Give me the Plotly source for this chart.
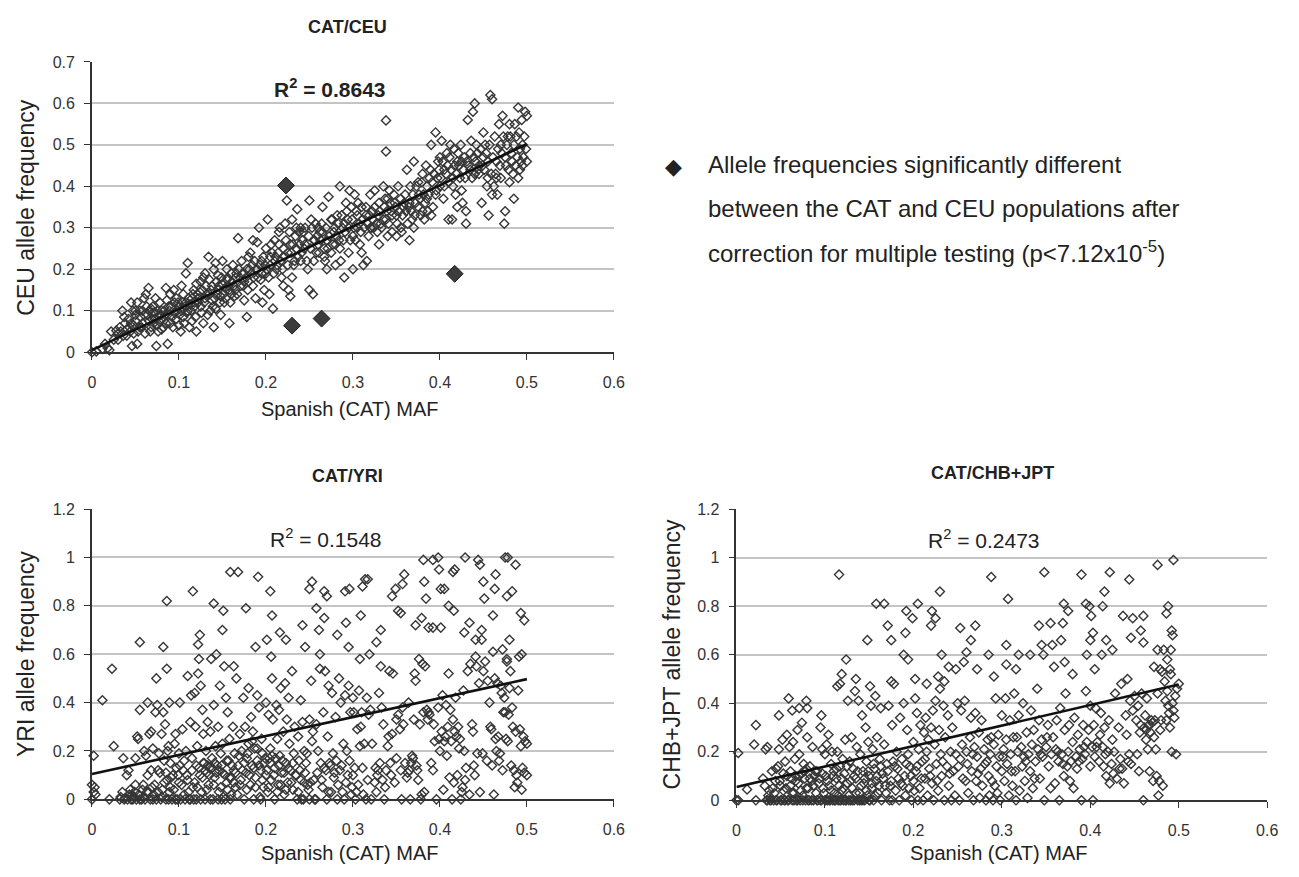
import plotly.graph_objects as go

# ---------------- DATA ----------------
x_ticks = [0, 0.1, 0.2, 0.3, 0.4, 0.5, 0.6]
x_ticklabels = ["0", "0.1", "0.2", "0.3", "0.4", "0.5", "0.6"]
ceu_yticks = [0, 0.1, 0.2, 0.3, 0.4, 0.5, 0.6, 0.7]
ceu_yticklabels = ["0", "0.1", "0.2", "0.3", "0.4", "0.5", "0.6", "0.7"]
low_yticks = [0, 0.2, 0.4, 0.6, 0.8, 1.0, 1.2]
low_yticklabels = ["0", "0.2", "0.4", "0.6", "0.8", "1", "1.2"]

panel_titles = ["CAT/CEU", "CAT/YRI", "CAT/CHB+JPT"]
r2_labels = ["0.8643", "0.1548", "0.2473"]

# CAT vs CEU (significant outliers separately)
ceu_sig_x = [0.223, 0.230, 0.264, 0.417]
ceu_sig_y = [0.402, 0.064, 0.081, 0.189]

ceu_points = [
    (0.0,0.0),(0.005,0.002),(0.012,0.008),(0.018,0.01),(0.02,0.005),(0.015,0.02),
    (0.022,0.05),(0.025,0.03),(0.03,0.045),(0.032,0.06),(0.035,0.1),(0.038,0.07),(0.04,0.055),(0.036,0.04),(0.028,0.052),
    (0.042,0.08),(0.045,0.12),(0.048,0.065),(0.05,0.09),(0.052,0.12),(0.055,0.06),(0.046,0.015),(0.052,0.02),(0.058,0.1),(0.044,0.05),(0.05,0.075),(0.056,0.085),(0.06,0.13),(0.058,0.07),(0.047,0.1),
    (0.062,0.14),(0.065,0.155),(0.064,0.09),(0.068,0.06),(0.07,0.11),(0.072,0.08),(0.074,0.015),(0.076,0.05),(0.078,0.12),(0.066,0.075),(0.07,0.095),(0.075,0.065),(0.08,0.1),(0.08,0.055),(0.073,0.13),(0.068,0.105),
    (0.082,0.06),(0.085,0.155),(0.087,0.02),(0.088,0.11),(0.09,0.14),(0.092,0.085),(0.095,0.12),(0.098,0.1),(0.1,0.065),(0.084,0.09),(0.09,0.07),(0.094,0.15),(0.097,0.13),(0.1,0.11),(0.086,0.125),
    (0.102,0.05),(0.105,0.085),(0.108,0.19),(0.11,0.215),(0.112,0.06),(0.115,0.13),(0.118,0.11),(0.12,0.165),(0.105,0.14),(0.11,0.1),(0.115,0.075),(0.12,0.05),(0.108,0.12),(0.117,0.15),(0.103,0.16),
    (0.122,0.12),(0.125,0.17),(0.128,0.07),(0.13,0.19),(0.132,0.14),(0.134,0.23),(0.136,0.1),(0.138,0.16),(0.14,0.06),(0.126,0.095),(0.13,0.13),(0.135,0.175),(0.14,0.2),(0.124,0.145),(0.138,0.125),(0.128,0.18),
    (0.142,0.215),(0.145,0.15),(0.148,0.09),(0.15,0.22),(0.152,0.12),(0.155,0.175),(0.158,0.07),(0.16,0.14),(0.145,0.185),(0.15,0.165),(0.155,0.2),(0.142,0.105),(0.148,0.135),(0.157,0.16),(0.16,0.19),
    (0.162,0.21),(0.165,0.15),(0.168,0.275),(0.17,0.18),(0.172,0.22),(0.175,0.125),(0.178,0.085),(0.18,0.23),(0.166,0.19),(0.174,0.16),(0.178,0.2),(0.164,0.135),(0.18,0.17),
    (0.182,0.24),(0.185,0.27),(0.188,0.13),(0.19,0.2),(0.192,0.3),(0.195,0.22),(0.198,0.15),(0.2,0.25),(0.186,0.18),(0.19,0.265),(0.196,0.12),(0.2,0.19),(0.184,0.21),(0.194,0.175),
    (0.202,0.32),(0.205,0.23),(0.208,0.105),(0.21,0.27),(0.212,0.2),(0.215,0.29),(0.218,0.18),(0.22,0.25),(0.204,0.14),(0.21,0.22),(0.216,0.3),(0.22,0.16),(0.206,0.26),(0.214,0.24),
    (0.222,0.31),(0.224,0.366),(0.226,0.15),(0.228,0.26),(0.23,0.32),(0.232,0.21),(0.234,0.28),(0.236,0.345),(0.238,0.29),(0.24,0.22),(0.225,0.24),(0.23,0.18),(0.24,0.3),(0.228,0.135),(0.235,0.25),
    (0.242,0.27),(0.245,0.3),(0.248,0.2),(0.25,0.366),(0.252,0.32),(0.254,0.14),(0.256,0.27),(0.258,0.24),(0.26,0.3),(0.244,0.25),(0.25,0.15),(0.255,0.22),(0.26,0.26),
    (0.262,0.29),(0.265,0.35),(0.268,0.22),(0.27,0.27),(0.272,0.375),(0.275,0.24),(0.278,0.29),(0.28,0.21),(0.264,0.31),(0.27,0.2),(0.276,0.32),(0.28,0.26),(0.267,0.25),
    (0.282,0.33),(0.285,0.4),(0.288,0.3),(0.29,0.18),(0.292,0.36),(0.295,0.24),(0.298,0.35),(0.3,0.2),(0.284,0.27),(0.29,0.31),(0.296,0.39),(0.3,0.28),(0.286,0.22),(0.294,0.32),
    (0.302,0.38),(0.305,0.3),(0.308,0.26),(0.31,0.35),(0.312,0.21),(0.315,0.33),(0.318,0.28),(0.32,0.38),(0.304,0.34),(0.31,0.24),(0.316,0.22),(0.32,0.3),(0.306,0.36),
    (0.322,0.34),(0.325,0.39),(0.328,0.29),(0.33,0.36),(0.332,0.31),(0.335,0.4),(0.338,0.32),(0.34,0.28),(0.324,0.3),(0.33,0.26),(0.336,0.35),(0.34,0.37),(0.338,0.559),(0.338,0.484),
    (0.342,0.39),(0.345,0.29),(0.348,0.36),(0.35,0.33),(0.352,0.4),(0.355,0.3),(0.358,0.35),(0.36,0.38),(0.344,0.34),(0.35,0.28),(0.356,0.29),
    (0.362,0.44),(0.365,0.27),(0.368,0.32),(0.37,0.46),(0.372,0.36),(0.375,0.41),(0.378,0.33),(0.38,0.43),(0.364,0.35),(0.37,0.3),(0.376,0.38),(0.38,0.34),(0.366,0.4),
    (0.382,0.32),(0.385,0.37),(0.388,0.42),(0.39,0.5),(0.392,0.35),(0.395,0.53),(0.398,0.46),(0.4,0.4),(0.384,0.45),(0.39,0.33),(0.396,0.39),(0.4,0.47),(0.386,0.34),
    (0.402,0.51),(0.405,0.44),(0.408,0.48),(0.41,0.32),(0.412,0.5),(0.415,0.42),(0.418,0.38),(0.42,0.46),(0.404,0.37),(0.41,0.41),(0.416,0.49),(0.42,0.35),(0.414,0.32),
    (0.422,0.45),(0.425,0.39),(0.428,0.47),(0.43,0.31),(0.432,0.56),(0.435,0.44),(0.438,0.58),(0.44,0.6),(0.424,0.5),(0.43,0.34),(0.436,0.51),(0.44,0.43),(0.426,0.36),
    (0.442,0.5),(0.445,0.45),(0.448,0.36),(0.45,0.53),(0.452,0.5),(0.455,0.42),(0.458,0.62),(0.46,0.38),(0.444,0.44),(0.45,0.47),(0.456,0.33),(0.46,0.61),(0.454,0.4),
    (0.462,0.4),(0.465,0.46),(0.468,0.55),(0.47,0.42),(0.472,0.57),(0.475,0.34),(0.478,0.52),(0.48,0.55),(0.464,0.43),(0.47,0.5),(0.474,0.31),(0.476,0.45),(0.48,0.41),(0.466,0.38),
    (0.482,0.48),(0.485,0.37),(0.488,0.52),(0.49,0.59),(0.492,0.44),(0.494,0.56),(0.496,0.47),(0.498,0.58),(0.5,0.46),(0.484,0.43),(0.49,0.42),(0.495,0.5),(0.5,0.57),(0.486,0.55),(0.492,0.49),
    (0.03,0.03),(0.033,0.05),(0.037,0.085),(0.04,0.04),(0.043,0.06),(0.045,0.07),(0.048,0.045),(0.05,0.1),(0.053,0.05),(0.055,0.1),(0.057,0.06),(0.06,0.09),(0.061,0.045),(0.063,0.11),(0.066,0.1),(0.067,0.05),(0.069,0.08),(0.071,0.07),(0.073,0.095),(0.075,0.1),(0.077,0.075),(0.079,0.09),(0.081,0.08),(0.083,0.1),(0.085,0.07),(0.087,0.09),(0.089,0.1),(0.091,0.11),(0.093,0.06),(0.095,0.095),(0.097,0.08),(0.099,0.12),
    (0.101,0.09),(0.103,0.1),(0.104,0.12),(0.106,0.07),(0.107,0.11),(0.109,0.095),(0.111,0.13),(0.113,0.115),(0.114,0.1),(0.116,0.14),(0.118,0.12),(0.119,0.085),(0.121,0.14),(0.123,0.13),(0.125,0.11),(0.127,0.15),(0.129,0.12),(0.131,0.16),(0.133,0.09),(0.135,0.14),(0.137,0.15),(0.139,0.11),(0.141,0.13),(0.143,0.17),(0.144,0.14),(0.146,0.16),(0.147,0.12),(0.149,0.18),
    (0.151,0.14),(0.153,0.155),(0.154,0.13),(0.156,0.18),(0.158,0.15),(0.159,0.12),(0.161,0.17),(0.163,0.16),(0.165,0.18),(0.167,0.14),(0.169,0.2),(0.171,0.16),(0.173,0.19),(0.175,0.17),(0.177,0.18),(0.179,0.15),(0.181,0.2),(0.183,0.19),(0.185,0.16),(0.187,0.22),(0.189,0.2),(0.191,0.18),(0.193,0.21),(0.195,0.19),(0.197,0.23),(0.199,0.21),
    (0.201,0.2),(0.203,0.18),(0.205,0.21),(0.207,0.24),(0.209,0.19),(0.211,0.23),(0.213,0.21),(0.215,0.26),(0.217,0.22),(0.219,0.2),(0.221,0.23),(0.223,0.27),(0.225,0.21),(0.227,0.29),(0.229,0.24),(0.231,0.26),(0.233,0.22),(0.235,0.3),(0.237,0.23),(0.239,0.26),(0.241,0.24),(0.243,0.29),(0.245,0.26),(0.247,0.22),(0.249,0.28),
    (0.251,0.25),(0.253,0.3),(0.255,0.27),(0.257,0.31),(0.259,0.28),(0.261,0.24),(0.263,0.27),(0.265,0.29),(0.267,0.23),(0.269,0.3),(0.271,0.25),(0.273,0.28),(0.275,0.32),(0.277,0.26),(0.279,0.3),(0.281,0.28),(0.283,0.31),(0.285,0.25),(0.287,0.33),(0.289,0.27),(0.291,0.29),(0.293,0.34),(0.295,0.3),(0.297,0.27),(0.299,0.32),
    (0.301,0.3),(0.303,0.27),(0.305,0.33),(0.307,0.31),(0.309,0.29),(0.311,0.32),(0.313,0.3),(0.315,0.35),(0.317,0.31),(0.319,0.33),(0.321,0.3),(0.323,0.32),(0.325,0.35),(0.327,0.31),(0.329,0.33),(0.331,0.34),(0.333,0.3),(0.335,0.32),(0.337,0.37),(0.339,0.34),(0.341,0.31),(0.343,0.36),(0.345,0.33),(0.347,0.38),(0.349,0.35),
    (0.351,0.31),(0.353,0.34),(0.355,0.37),(0.357,0.33),(0.359,0.36),(0.361,0.34),(0.363,0.31),(0.365,0.36),(0.367,0.34),(0.369,0.38),(0.371,0.33),(0.373,0.4),(0.375,0.35),(0.377,0.37),(0.379,0.41),(0.381,0.38),(0.383,0.36),(0.385,0.4),(0.387,0.38),(0.389,0.44),(0.391,0.41),(0.393,0.43),(0.395,0.38),(0.397,0.42),(0.399,0.44),
    (0.401,0.42),(0.403,0.46),(0.405,0.4),(0.407,0.43),(0.409,0.45),(0.411,0.47),(0.413,0.44),(0.415,0.4),(0.417,0.45),(0.419,0.43),(0.421,0.48),(0.423,0.42),(0.425,0.46),(0.427,0.44),(0.429,0.42),(0.431,0.46),(0.433,0.45),(0.435,0.48),(0.437,0.42),(0.439,0.47),(0.441,0.46),(0.443,0.48),(0.445,0.43),(0.447,0.49),(0.449,0.45),
    (0.451,0.44),(0.453,0.48),(0.455,0.46),(0.457,0.5),(0.459,0.43),(0.461,0.47),(0.463,0.52),(0.465,0.42),(0.467,0.49),(0.469,0.45),(0.471,0.48),(0.473,0.52),(0.475,0.47),(0.477,0.5),(0.479,0.44),(0.481,0.52),(0.483,0.46),(0.485,0.5),(0.487,0.45),(0.489,0.47),(0.491,0.53),(0.493,0.46),(0.495,0.45),(0.497,0.52),(0.499,0.49),
]

yri_points = [
    (0.002,0.18),(0.0,0.06),(0.012,0.41),(0.023,0.54),(0.025,0.22),(0.055,0.65),(0.055,0.37),
    (0.086,0.82),(0.082,0.63),(0.086,0.54),(0.064,0.40),(0.089,0.40),(0.101,0.40),
    (0.116,0.86),(0.124,0.68),(0.122,0.64),(0.14,0.81),(0.15,0.70),(0.151,0.78),(0.159,0.94),(0.168,0.94),(0.163,0.55),
    (0.177,0.79),(0.191,0.92),(0.188,0.63),(0.205,0.86),(0.207,0.76),(0.206,0.59),(0.201,0.66),(0.216,0.69),(0.223,0.66),
    (0.242,0.72),(0.245,0.63),(0.253,0.90),(0.25,0.87),(0.258,0.79),(0.267,0.86),(0.27,0.84),(0.261,0.70),(0.267,0.75),(0.262,0.60),
    (0.282,0.68),(0.291,0.86),(0.296,0.87),(0.292,0.73),(0.295,0.63),(0.309,0.76),(0.311,0.88),(0.314,0.91),(0.317,0.91),(0.308,0.58),(0.319,0.60),
    (0.327,0.65),(0.332,0.70),(0.345,0.84),(0.349,0.87),(0.359,0.93),(0.357,0.89),(0.352,0.78),(0.355,0.77),
    (0.382,0.90),(0.381,0.99),(0.392,0.99),(0.398,1.0),(0.399,0.95),(0.401,0.87),(0.405,0.87),(0.384,0.83),(0.379,0.75),(0.387,0.71),(0.392,0.71),(0.401,0.71),(0.372,0.72),
    (0.41,0.80),(0.416,0.78),(0.417,0.95),(0.415,0.94),(0.429,1.0),(0.444,0.99),(0.446,0.97),(0.45,0.90),(0.464,0.93),(0.475,1.0),(0.478,1.0),(0.487,0.97),
    (0.483,0.86),(0.477,0.84),(0.493,0.77),(0.497,0.74),(0.451,0.83),(0.461,0.76),(0.463,0.87),(0.448,0.70),(0.441,0.66),(0.428,0.69),(0.434,0.73),(0.48,0.66),(0.472,0.62),(0.477,0.58),(0.494,0.60),
    (0.0,0.0),(0.002,0.03),(0.003,0.05),(0.004,0.02),(0.02,0.0),(0.032,0.0),(0.035,0.03),(0.038,0.005),(0.04,0.1),(0.042,0.12),(0.045,0.0),(0.046,0.02),(0.048,0.01),(0.05,0.17),(0.05,0.06),(0.052,0.26),(0.053,0.25),(0.036,0.17),(0.044,0.04),
    (0.055,0.0),(0.058,0.04),(0.06,0.2),(0.06,0.01),(0.062,0.18),(0.064,0.1),(0.065,0.03),(0.066,0.27),(0.068,0.28),(0.068,0.12),(0.07,0.0),(0.07,0.21),(0.072,0.06),(0.073,0.36),(0.074,0.5),(0.075,0.39),(0.076,0.03),(0.077,0.19),(0.078,0.11),(0.08,0.27),(0.08,0.01),(0.082,0.36),(0.083,0.16),(0.084,0.31),(0.085,0.0),(0.086,0.08),(0.087,0.2),(0.088,0.22),(0.09,0.05),(0.09,0.15),(0.092,0.0),(0.093,0.1),(0.095,0.23),(0.096,0.27),(0.097,0.13),(0.098,0.0),(0.1,0.19),(0.1,0.07),
    (0.102,0.0),(0.104,0.29),(0.105,0.12),(0.106,0.02),(0.108,0.2),(0.11,0.08),(0.11,0.51),(0.112,0.0),(0.113,0.32),(0.114,0.43),(0.115,0.17),(0.116,0.05),(0.118,0.44),(0.119,0.3),(0.12,0.0),(0.12,0.14),(0.121,0.22),(0.122,0.52),(0.123,0.58),(0.124,0.1),(0.125,0.47),(0.126,0.03),(0.127,0.37),(0.128,0.27),(0.129,0.15),(0.13,0.0),(0.131,0.2),(0.132,0.11),(0.133,0.32),(0.134,0.06),(0.135,0.13),(0.136,0.28),(0.137,0.58),(0.138,0.17),(0.139,0.0),(0.14,0.39),(0.141,0.09),(0.142,0.22),(0.143,0.6),(0.144,0.14),(0.145,0.3),(0.146,0.03),(0.147,0.47),(0.148,0.19),(0.149,0.0),(0.15,0.11),(0.15,0.23),
    (0.152,0.55),(0.153,0.0),(0.154,0.42),(0.155,0.07),(0.156,0.36),(0.157,0.16),(0.158,0.25),(0.16,0.09),(0.16,0.02),(0.162,0.3),(0.163,0.12),(0.164,0.19),(0.165,0.05),(0.166,0.5),(0.168,0.14),(0.17,0.27),(0.171,0.08),(0.172,0.2),(0.174,0.42),(0.175,0.0),(0.176,0.3),(0.177,0.11),(0.178,0.17),(0.18,0.46),(0.18,0.23),(0.182,0.06),(0.183,0.34),(0.184,0.14),(0.185,0.28),(0.186,0.0),(0.187,0.21),(0.188,0.09),(0.19,0.43),(0.19,0.16),(0.192,0.38),(0.193,0.01),(0.194,0.12),(0.195,0.25),(0.196,0.19),(0.197,0.05),(0.198,0.15),(0.2,0.4),(0.2,0.1),
    (0.202,0.03),(0.203,0.35),(0.204,0.17),(0.205,0.21),(0.206,0.08),(0.207,0.5),(0.208,0.33),(0.21,0.13),(0.21,0.0),(0.212,0.39),(0.213,0.25),(0.214,0.06),(0.215,0.37),(0.216,0.18),(0.217,0.46),(0.218,0.11),(0.22,0.28),(0.221,0.02),(0.222,0.48),(0.223,0.15),(0.224,0.33),(0.225,0.07),(0.226,0.42),(0.227,0.23),(0.228,0.12),(0.23,0.53),(0.231,0.04),(0.232,0.19),(0.233,0.3),(0.235,0.1),(0.236,0.0),(0.237,0.26),(0.238,0.16),(0.24,0.41),(0.24,0.08),(0.242,0.32),(0.243,0.0),(0.244,0.2),(0.245,0.11),(0.247,0.19),(0.248,0.06),(0.25,0.33),(0.25,0.0),
    (0.252,0.49),(0.253,0.24),(0.254,0.28),(0.255,0.08),(0.257,0.0),(0.258,0.31),(0.26,0.2),(0.262,0.54),(0.263,0.15),(0.265,0.05),(0.266,0.36),(0.268,0.53),(0.269,0.12),(0.27,0.0),(0.271,0.26),(0.272,0.47),(0.273,0.15),(0.275,0.03),(0.276,0.44),(0.277,0.19),(0.278,0.09),(0.28,0.34),(0.281,0.16),(0.282,0.0),(0.284,0.5),(0.285,0.12),(0.286,0.4),(0.288,0.03),(0.289,0.23),(0.29,0.0),(0.291,0.43),(0.292,0.07),(0.293,0.2),(0.295,0.47),(0.296,0.16),(0.297,0.36),(0.298,0.02),(0.3,0.1),(0.3,0.42),
    (0.301,0.36),(0.302,0.13),(0.303,0.0),(0.305,0.29),(0.306,0.06),(0.307,0.45),(0.308,0.22),(0.309,0.3),(0.31,0.36),(0.312,0.02),(0.313,0.23),(0.315,0.0),(0.316,0.42),(0.318,0.35),(0.32,0.37),(0.322,0.23),(0.325,0.07),(0.326,0.13),(0.327,0.03),(0.328,0.1),(0.33,0.44),(0.331,0.15),(0.332,0.55),(0.333,0.38),(0.334,0.08),(0.335,0.31),(0.336,0.0),(0.338,0.12),(0.34,0.22),(0.341,0.26),(0.342,0.53),(0.344,0.1),(0.345,0.27),(0.346,0.52),(0.348,0.07),(0.35,0.33),(0.35,0.17),
    (0.352,0.35),(0.354,0.29),(0.355,0.12),(0.357,0.38),(0.358,0.31),(0.36,0.15),(0.362,0.09),(0.364,0.4),(0.365,0.12),(0.366,0.0),(0.368,0.18),(0.369,0.17),(0.37,0.33),(0.371,0.52),(0.372,0.49),(0.373,0.14),(0.375,0.08),(0.376,0.58),(0.377,0.31),(0.378,0.0),(0.38,0.56),(0.381,0.36),(0.382,0.03),(0.383,0.55),(0.385,0.37),(0.386,0.33),(0.388,0.35),(0.39,0.15),(0.392,0.12),(0.394,0.24),(0.396,0.0),(0.398,0.38),(0.4,0.2),
    (0.402,0.28),(0.403,0.43),(0.404,0.04),(0.405,0.24),(0.406,0.26),(0.407,0.39),(0.408,0.18),(0.41,0.52),(0.411,0.09),(0.412,0.37),(0.413,0.24),(0.414,0.0),(0.415,0.33),(0.416,0.07),(0.417,0.28),(0.418,0.42),(0.42,0.1),(0.421,0.3),(0.422,0.21),(0.424,0.0),(0.425,0.03),(0.426,0.05),(0.427,0.45),(0.428,0.2),(0.43,0.13),(0.432,0.53),(0.434,0.02),(0.435,0.56),(0.437,0.31),(0.438,0.28),(0.44,0.1),(0.441,0.59),(0.442,0.55),(0.443,0.19),(0.445,0.48),(0.446,0.03),(0.448,0.66),(0.45,0.53),
    (0.452,0.57),(0.454,0.16),(0.455,0.49),(0.457,0.4),(0.458,0.3),(0.46,0.14),(0.461,0.61),(0.462,0.02),(0.463,0.5),(0.464,0.25),(0.465,0.2),(0.466,0.48),(0.467,0.26),(0.468,0.16),(0.47,0.47),(0.471,0.44),(0.472,0.12),(0.473,0.36),(0.474,0.42),(0.475,0.36),(0.476,0.25),(0.477,0.57),(0.478,0.24),(0.48,0.46),(0.481,0.53),(0.482,0.14),(0.483,0.38),(0.484,0.3),(0.485,0.12),(0.486,0.05),(0.487,0.28),(0.488,0.1),(0.489,0.07),(0.49,0.45),(0.491,0.59),(0.492,0.29),(0.493,0.22),(0.494,0.04),(0.495,0.13),(0.496,0.26),(0.497,0.11),(0.498,0.24),(0.5,0.23),(0.5,0.1),
    (0.033,0.01),(0.037,0.0),(0.041,0.0),(0.043,0.02),(0.047,0.0),(0.049,0.03),(0.051,0.0),(0.054,0.02),(0.057,0.0),(0.059,0.06),(0.061,0.0),(0.063,0.03),(0.067,0.0),(0.069,0.05),(0.071,0.02),(0.074,0.0),(0.076,0.12),(0.079,0.0),(0.081,0.04),(0.083,0.07),(0.085,0.11),(0.088,0.0),(0.089,0.03),(0.091,0.09),(0.094,0.04),(0.096,0.0),(0.099,0.1),
    (0.101,0.14),(0.103,0.06),(0.106,0.16),(0.107,0.0),(0.109,0.1),(0.111,0.03),(0.113,0.0),(0.115,0.12),(0.117,0.0),(0.118,0.07),(0.121,0.05),(0.123,0.13),(0.125,0.0),(0.127,0.09),(0.128,0.15),(0.13,0.12),(0.132,0.04),(0.133,0.14),(0.135,0.1),(0.136,0.0),(0.138,0.13),(0.14,0.06),(0.141,0.15),(0.143,0.11),(0.145,0.0),(0.146,0.12),(0.148,0.05),(0.149,0.14),
    (0.151,0.01),(0.153,0.1),(0.155,0.16),(0.156,0.04),(0.158,0.09),(0.159,0.0),(0.161,0.14),(0.163,0.07),(0.165,0.11),(0.167,0.02),(0.169,0.18),(0.17,0.06),(0.173,0.12),(0.175,0.15),(0.178,0.04),(0.179,0.19),(0.181,0.1),(0.184,0.24),(0.186,0.13),(0.188,0.05),(0.19,0.21),(0.192,0.14),(0.194,0.0),(0.196,0.08),(0.199,0.17),
    (0.201,0.12),(0.203,0.05),(0.205,0.15),(0.207,0.18),(0.209,0.1),(0.211,0.17),(0.213,0.03),(0.215,0.14),(0.217,0.06),(0.219,0.16),(0.221,0.11),(0.223,0.04),(0.226,0.13),(0.229,0.07),(0.231,0.15),(0.234,0.1),(0.237,0.03),(0.239,0.12),(0.241,0.0),(0.244,0.07),(0.246,0.15),(0.249,0.04),
    (0.251,0.07),(0.256,0.0),(0.259,0.11),(0.264,0.08),(0.267,0.13),(0.272,0.03),(0.274,0.14),(0.279,0.11),(0.283,0.06),(0.287,0.14),(0.294,0.1),(0.299,0.05),(0.304,0.03),(0.311,0.13),(0.317,0.08),(0.321,0.0),(0.329,0.12),(0.337,0.05),(0.343,0.15),(0.356,0.0),(0.363,0.11),(0.367,0.15),(0.374,0.12),(0.379,0.02),
    (0.387,0.36),(0.393,0.31),(0.399,0.25),(0.409,0.3),(0.419,0.26),(0.423,0.25),(0.429,0.08),(0.439,0.14),(0.449,0.19),(0.459,0.29),(0.469,0.19),(0.479,0.35),
]

chb_points = [
    (0.002,0.195),(0.012,0.045),(0.022,0.31),(0.02,0.23),(0.033,0.21),(0.048,0.35),(0.059,0.42),(0.063,0.37),(0.071,0.38),(0.079,0.41),(0.08,0.38),(0.096,0.35),
    (0.116,0.93),(0.119,0.52),(0.124,0.58),(0.117,0.48),(0.114,0.47),(0.135,0.50),(0.148,0.66),(0.151,0.47),(0.158,0.81),(0.167,0.81),(0.171,0.72),(0.175,0.66),(0.175,0.49),
    (0.192,0.78),(0.199,0.75),(0.191,0.69),(0.205,0.81),(0.189,0.60),(0.194,0.58),(0.202,0.50),(0.215,0.48),(0.221,0.78),(0.225,0.75),(0.22,0.72),(0.23,0.86),(0.232,0.60),(0.228,0.51),(0.235,0.49),(0.24,0.55),
    (0.253,0.71),(0.265,0.66),(0.27,0.72),(0.26,0.61),(0.248,0.54),(0.257,0.57),(0.272,0.54),(0.288,0.92),(0.285,0.60),(0.291,0.51),(0.305,0.64),(0.307,0.83),(0.305,0.56),(0.316,0.54),(0.319,0.60),(0.332,0.60),
    (0.348,0.94),(0.342,0.72),(0.355,0.73),(0.345,0.64),(0.357,0.64),(0.347,0.60),(0.359,0.55),(0.37,0.81),(0.375,0.78),(0.369,0.73),(0.367,0.66),(0.371,0.57),(0.380,0.52),
    (0.39,0.93),(0.395,0.81),(0.399,0.80),(0.401,0.76),(0.403,0.69),(0.400,0.66),(0.405,0.54),(0.396,0.60),(0.416,0.86),(0.414,0.80),(0.422,0.94),(0.418,0.66),(0.425,0.62),(0.413,0.60),
    (0.437,0.76),(0.444,0.91),(0.448,0.75),(0.446,0.67),(0.460,0.76),(0.457,0.70),(0.460,0.65),(0.476,0.97),(0.494,0.99),(0.488,0.80),(0.486,0.77),(0.492,0.70),(0.493,0.68),
    (0.476,0.62),(0.483,0.62),(0.491,0.62),(0.472,0.55),(0.479,0.54),(0.487,0.58),(0.490,0.54),
    (0.0,0.0),(0.002,0.0),(0.022,0.0),(0.03,0.09),(0.032,0.06),(0.034,0.0),(0.035,0.22),(0.036,0.02),(0.038,0.0),(0.04,0.12),(0.041,0.05),(0.042,0.0),(0.044,0.08),(0.045,0.13),(0.046,0.0),(0.047,0.14),(0.048,0.21),(0.05,0.06),(0.05,0.0),
    (0.052,0.25),(0.053,0.11),(0.054,0.0),(0.055,0.16),(0.056,0.05),(0.057,0.27),(0.058,0.0),(0.06,0.22),(0.061,0.12),(0.062,0.09),(0.063,0.0),(0.064,0.24),(0.065,0.03),(0.066,0.17),(0.067,0.1),(0.068,0.0),(0.069,0.29),(0.07,0.07),(0.071,0.19),(0.072,0.0),(0.073,0.11),(0.074,0.32),(0.075,0.02),(0.076,0.15),(0.077,0.09),(0.078,0.0),(0.079,0.13),(0.08,0.26),(0.081,0.05),(0.082,0.0),(0.083,0.14),(0.085,0.08),(0.086,0.22),(0.087,0.0),(0.088,0.1),(0.09,0.03),(0.091,0.12),(0.092,0.0),(0.094,0.09),(0.095,0.3),(0.096,0.0),(0.097,0.21),(0.098,0.05),(0.1,0.0),(0.1,0.19),
    (0.101,0.1),(0.102,0.23),(0.103,0.0),(0.104,0.27),(0.105,0.06),(0.106,0.0),(0.107,0.15),(0.108,0.2),(0.109,0.0),(0.11,0.12),(0.111,0.03),(0.112,0.0),(0.113,0.09),(0.114,0.2),(0.115,0.0),(0.116,0.06),(0.117,0.14),(0.118,0.0),(0.119,0.04),(0.12,0.17),(0.121,0.0),(0.122,0.11),(0.123,0.25),(0.124,0.0),(0.125,0.07),(0.126,0.41),(0.127,0.02),(0.128,0.16),(0.129,0.0),(0.13,0.26),(0.131,0.05),(0.132,0.13),(0.133,0.0),(0.134,0.45),(0.135,0.09),(0.136,0.22),(0.137,0.0),(0.138,0.41),(0.139,0.03),(0.14,0.19),(0.141,0.0),(0.142,0.35),(0.143,0.12),(0.144,0.07),(0.145,0.0),(0.146,0.3),(0.147,0.16),(0.148,0.02),(0.149,0.24),(0.15,0.0),(0.15,0.1),
    (0.152,0.39),(0.153,0.05),(0.154,0.21),(0.155,0.0),(0.156,0.13),(0.157,0.43),(0.158,0.08),(0.159,0.26),(0.16,0.03),(0.162,0.17),(0.163,0.38),(0.164,0.0),(0.165,0.11),(0.167,0.23),(0.168,0.06),(0.17,0.15),(0.172,0.39),(0.173,0.0),(0.175,0.08),(0.176,0.31),(0.177,0.16),(0.178,0.48),(0.18,0.04),(0.181,0.2),(0.182,0.13),(0.184,0.0),(0.185,0.34),(0.186,0.07),(0.187,0.17),(0.189,0.4),(0.19,0.1),(0.191,0.02),(0.193,0.29),(0.194,0.19),(0.195,0.05),(0.196,0.14),(0.198,0.0),(0.2,0.24),(0.2,0.08),
    (0.202,0.42),(0.203,0.12),(0.204,0.36),(0.205,0.0),(0.206,0.21),(0.207,0.05),(0.208,0.31),(0.21,0.16),(0.211,0.0),(0.212,0.28),(0.213,0.09),(0.214,0.34),(0.215,0.2),(0.216,0.02),(0.217,0.25),(0.218,0.13),(0.22,0.3),(0.221,0.07),(0.222,0.37),(0.223,0.0),(0.224,0.23),(0.225,0.41),(0.226,0.15),(0.228,0.04),(0.229,0.29),(0.23,0.46),(0.231,0.19),(0.232,0.1),(0.234,0.39),(0.235,0.0),(0.236,0.26),(0.238,0.14),(0.239,0.35),(0.24,0.06),(0.242,0.2),(0.243,0.0),(0.244,0.3),(0.245,0.12),(0.247,0.02),(0.248,0.19),(0.25,0.4),
    (0.252,0.0),(0.253,0.17),(0.254,0.37),(0.255,0.23),(0.256,0.09),(0.258,0.41),(0.26,0.2),(0.261,0.15),(0.262,0.03),(0.264,0.26),(0.265,0.34),(0.266,0.12),(0.268,0.0),(0.269,0.22),(0.27,0.36),(0.271,0.08),(0.272,0.18),(0.274,0.28),(0.275,0.01),(0.276,0.13),(0.277,0.33),(0.278,0.06),(0.28,0.21),(0.281,0.15),(0.282,0.0),(0.284,0.25),(0.285,0.1),(0.286,0.02),(0.287,0.19),(0.288,0.26),(0.29,0.0),(0.291,0.23),(0.292,0.06),(0.293,0.42),(0.295,0.03),(0.296,0.27),(0.297,0.18),(0.298,0.0),(0.3,0.35),(0.3,0.12),
    (0.302,0.21),(0.303,0.08),(0.304,0.42),(0.305,0.25),(0.306,0.15),(0.308,0.02),(0.309,0.33),(0.31,0.19),(0.312,0.06),(0.313,0.26),(0.314,0.44),(0.315,0.12),(0.316,0.0),(0.318,0.2),(0.319,0.35),(0.32,0.04),(0.322,0.22),(0.323,0.14),(0.324,0.4),(0.325,0.18),(0.326,0.08),(0.328,0.28),(0.329,0.01),(0.33,0.19),(0.332,0.12),(0.333,0.37),(0.334,0.23),(0.335,0.05),(0.336,0.29),(0.338,0.16),(0.34,0.46),(0.341,0.21),(0.342,0.33),(0.343,0.09),(0.345,0.25),(0.346,0.18),(0.348,0.0),(0.35,0.22),
    (0.352,0.31),(0.353,0.14),(0.355,0.05),(0.356,0.19),(0.358,0.26),(0.36,0.07),(0.361,0.21),(0.362,0.33),(0.364,0.16),(0.365,0.0),(0.366,0.38),(0.368,0.19),(0.37,0.1),(0.371,0.29),(0.372,0.44),(0.374,0.14),(0.375,0.2),(0.376,0.31),(0.378,0.16),(0.38,0.24),(0.381,0.05),(0.382,0.34),(0.384,0.18),(0.385,0.13),(0.386,0.27),(0.388,0.21),(0.39,0.0),(0.391,0.17),(0.392,0.31),(0.394,0.19),(0.395,0.45),(0.396,0.24),(0.398,0.29),(0.4,0.14),(0.4,0.39),
    (0.402,0.22),(0.403,0.0),(0.404,0.31),(0.405,0.18),(0.406,0.38),(0.408,0.24),(0.41,0.16),(0.411,0.27),(0.412,0.36),(0.414,0.22),(0.415,0.14),(0.416,0.3),(0.418,0.1),(0.42,0.2),(0.421,0.33),(0.422,0.07),(0.424,0.15),(0.425,0.25),(0.426,0.11),(0.428,0.44),(0.43,0.09),(0.432,0.3),(0.434,0.17),(0.435,0.48),(0.436,0.13),(0.438,0.07),(0.44,0.35),(0.441,0.27),(0.442,0.5),(0.444,0.19),(0.445,0.41),(0.446,0.15),(0.448,0.37),(0.45,0.43),
    (0.452,0.33),(0.454,0.39),(0.455,0.12),(0.456,0.28),(0.458,0.44),(0.46,0.0),(0.461,0.3),(0.462,0.35),(0.463,0.25),(0.464,0.42),(0.465,0.21),(0.466,0.31),(0.467,0.12),(0.468,0.28),(0.47,0.32),(0.471,0.08),(0.472,0.26),(0.473,0.33),(0.474,0.21),(0.475,0.1),(0.476,0.44),(0.477,0.02),(0.478,0.08),(0.48,0.33),(0.481,0.53),(0.482,0.06),(0.484,0.49),(0.485,0.41),(0.486,0.33),(0.487,0.45),(0.488,0.39),(0.489,0.36),(0.49,0.3),(0.491,0.52),(0.492,0.2),(0.493,0.4),(0.494,0.37),(0.495,0.34),(0.496,0.43),(0.497,0.19),(0.498,0.46),(0.5,0.48),
    (0.035,0.0),(0.037,0.04),(0.039,0.0),(0.043,0.03),(0.045,0.0),(0.049,0.08),(0.051,0.0),(0.053,0.04),(0.055,0.0),(0.057,0.1),(0.059,0.0),(0.061,0.06),(0.063,0.03),(0.065,0.0),(0.067,0.08),(0.069,0.0),(0.071,0.1),(0.073,0.04),(0.075,0.0),(0.077,0.12),(0.079,0.05),(0.081,0.0),(0.083,0.09),(0.085,0.0),(0.087,0.06),(0.089,0.12),(0.091,0.0),(0.093,0.07),(0.095,0.0),(0.097,0.11),(0.099,0.03),
    (0.101,0.0),(0.103,0.08),(0.105,0.0),(0.107,0.04),(0.109,0.1),(0.111,0.0),(0.113,0.13),(0.115,0.02),(0.117,0.0),(0.119,0.09),(0.121,0.05),(0.123,0.0),(0.125,0.14),(0.127,0.0),(0.129,0.08),(0.131,0.0),(0.133,0.1),(0.135,0.03),(0.137,0.12),(0.139,0.0),(0.141,0.06),(0.143,0.0),(0.145,0.09),(0.147,0.04),(0.149,0.12),
    (0.151,0.0),(0.153,0.07),(0.155,0.15),(0.157,0.02),(0.159,0.1),(0.161,0.06),(0.163,0.14),(0.166,0.09),(0.169,0.03),(0.171,0.12),(0.174,0.06),(0.176,0.0),(0.179,0.14),(0.183,0.09),(0.188,0.06),(0.192,0.15),(0.197,0.1),
    (0.201,0.04),(0.204,0.14),(0.209,0.09),(0.213,0.17),(0.219,0.1),(0.227,0.08),(0.233,0.16),(0.241,0.11),(0.251,0.14),(0.259,0.08),(0.267,0.19),(0.273,0.11),(0.283,0.16),(0.289,0.08),(0.294,0.14),(0.301,0.18),(0.311,0.12),(0.317,0.26),(0.327,0.16),(0.337,0.09),(0.344,0.19),
    (0.351,0.26),(0.363,0.2),(0.369,0.15),(0.377,0.08),(0.387,0.16),(0.393,0.22),(0.407,0.22),(0.417,0.19),(0.427,0.2),(0.433,0.13),(0.443,0.16),(0.453,0.19),(0.457,0.31),(0.463,0.29),(0.469,0.33),(0.479,0.29),
]

# Linear trend lines (endpoints)
trend_x = [0.0, 0.5]
ceu_trend_y = [0.005, 0.502]
yri_trend_y = [0.105, 0.497]
chb_trend_y = [0.055, 0.477]

legend_lines = [
    "Allele frequencies significantly different",
    "between the CAT and CEU populations after",
    "correction for multiple testing (p&lt;7.12x10<sup>-5</sup>)",
]

# ---------------- FIGURE ----------------
W, H = 1299, 877
FONT = "Liberation Sans, Arial, sans-serif"
TXT = "#222222"

def px_x(p):
    return p / W

def px_y(p):
    return 1 - p / H

fig = go.Figure()

marker_small = dict(symbol="diamond-open", size=7, color="#363636", line=dict(width=1.4, color="#363636"))

def unzip(points):
    return [p[0] for p in points], [p[1] for p in points]

panels = [
    ("x", "y", ceu_points, ceu_trend_y),
    ("x2", "y2", yri_points, yri_trend_y),
    ("x3", "y3", chb_points, chb_trend_y),
]
for xa, ya, pts, ty in panels:
    px, py = unzip(pts)
    fig.add_trace(go.Scatter(x=px, y=py, mode="markers", marker=marker_small,
                             xaxis=xa, yaxis=ya, showlegend=False, cliponaxis=False))
    if xa == "x":
        fig.add_trace(go.Scatter(x=ceu_sig_x, y=ceu_sig_y, mode="markers",
                                 marker=dict(symbol="diamond", size=13, color="#3c3c3c",
                                             line=dict(width=1, color="#1e1e1e")),
                                 xaxis=xa, yaxis=ya, showlegend=False, cliponaxis=False))
    fig.add_trace(go.Scatter(x=trend_x, y=ty, mode="lines", line=dict(color="#111111", width=2.6),
                             xaxis=xa, yaxis=ya, showlegend=False, cliponaxis=False))

common_x = dict(range=[0, 0.6], tickvals=x_ticks, ticktext=x_ticklabels, showgrid=False,
                zeroline=False, showline=True, linecolor="#333333", linewidth=1.6,
                ticks="outside", ticklen=6, tickwidth=1.4, tickcolor="#333333",
                tickfont=dict(family=FONT, size=16, color="#333333"), ticklabelstandoff=9,
                fixedrange=True)
common_y = dict(showgrid=True, gridcolor="#c4c4c4", gridwidth=2, zeroline=False,
                showline=True, linecolor="#333333", linewidth=1.6,
                ticks="outside", ticklen=6, tickwidth=1.4, tickcolor="#333333",
                tickfont=dict(family=FONT, size=16, color="#333333"), ticklabelstandoff=6,
                fixedrange=True)

fig.update_layout(
    width=W, height=H, margin=dict(l=0, r=0, t=0, b=0),
    paper_bgcolor="white", plot_bgcolor="white",
    xaxis=dict(common_x, domain=[px_x(89), px_x(617)], anchor="y"),
    yaxis=dict(common_y, domain=[px_y(351), px_y(55)], range=[0, 0.7],
               tickvals=ceu_yticks, ticktext=ceu_yticklabels, anchor="x"),
    xaxis2=dict(common_x, domain=[px_x(89), px_x(617)], anchor="y2"),
    yaxis2=dict(common_y, domain=[px_y(807), px_y(511)], range=[0, 1.2],
                tickvals=low_yticks, ticktext=low_yticklabels, anchor="x2"),
    xaxis3=dict(common_x, domain=[px_x(741), px_x(1278)], anchor="y3"),
    yaxis3=dict(common_y, domain=[px_y(808), px_y(511)], range=[0, 1.2],
                tickvals=low_yticks, ticktext=low_yticklabels, anchor="x3"),
    showlegend=False,
)

ann = []
def add_text(text, x, y, size, bold=False, angle=0, xanchor="center"):
    ann.append(dict(text=("<b>%s</b>" % text) if bold else text, x=px_x(x), y=px_y(y),
                    xref="paper", yref="paper", showarrow=False, textangle=angle,
                    xanchor=xanchor, yanchor="middle",
                    font=dict(family=FONT, size=size, color=TXT)))

# panel titles
add_text(panel_titles[0], 348, 19, 18, bold=True)
add_text(panel_titles[1], 348, 477, 18, bold=True)
add_text(panel_titles[2], 1000, 474, 18, bold=True)
# R^2 labels
add_text("R<sup>2</sup> = " + r2_labels[0], 330, 82, 21, bold=True)
add_text("R<sup>2</sup> = " + r2_labels[1], 326, 540, 21)
add_text("R<sup>2</sup> = " + r2_labels[2], 991, 542, 21)
# axis titles
add_text("Spanish (CAT) MAF", 350, 409, 20)
add_text("Spanish (CAT) MAF", 350, 862, 20)
add_text("Spanish (CAT) MAF", 1006, 862, 20)
add_text("CEU allele frequency", 22, 203, 23, angle=-90)
add_text("YRI allele frequency", 22, 659, 23, angle=-90)
add_text("CHB+JPT allele frequency", 676, 659, 23, angle=-90)
# legend
add_text("\u25c6", 677, 162, 22)
for i, line in enumerate(legend_lines):
    add_text(line, 710, 160 + i * 44.5, 24, xanchor="left")

fig.update_layout(annotations=ann)

fig.write_html("out.html", config={"displayModeBar": False},
               post_script="document.body.style.margin='0';document.body.style.overflow='hidden';")
